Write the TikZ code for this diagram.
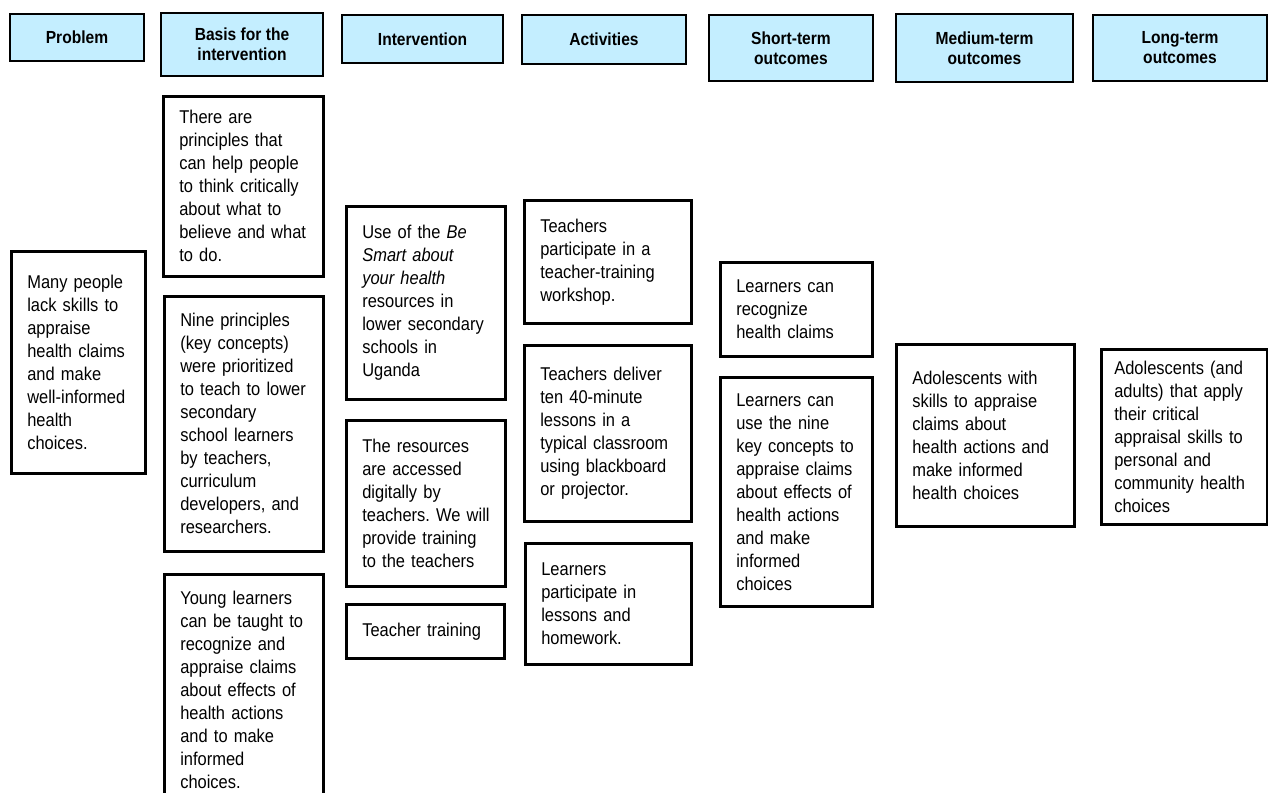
\documentclass[tikz,border=0pt]{standalone}
\usepackage{fontspec}
\setmainfont[FakeStretch=0.89]{Liberation Sans}
\definecolor{headfill}{RGB}{196,238,255}
\frenchspacing
\newcommand\headspc{\spaceskip=4.4pt plus 2pt minus 1pt\relax}
\newcommand\bodyspc{\spaceskip=4.6pt plus 2pt minus 1pt\relax}
\begin{document}
\begin{tikzpicture}[x=1pt,y=-1pt,
  head/.style={draw=black,line width=2.6pt,fill=headfill,align=center,
    font=\bfseries\fontsize{17.5}{20}\selectfont\headspc,inner sep=0pt},
  body/.style={draw=black,line width=2.6pt,fill=white,align=left,anchor=north west,
    font=\fontsize{18.5}{23}\selectfont\bodyspc,inner xsep=16pt,inner ysep=0pt}]
\useasboundingbox (0,0) rectangle (1268,792);
\clip (0,0) rectangle (1268,792);
% headers
\node[head,minimum width=134pt,minimum height=47pt] (hP) at (77,37.5) {Problem};
\node[head,minimum width=162pt,minimum height=63pt] (hB) at (242,44.5) {Basis for the\\intervention};
\node[head,minimum width=161pt,minimum height=48pt] (hI) at (422.5,39) {Intervention};
\node[head,minimum width=164pt,minimum height=49pt] (hA) at (604,39.5) {Activities};
\node[head,minimum width=164pt,minimum height=66pt] (hS) at (791,48) {Short-term\\outcomes};
\node[head,minimum width=177pt,minimum height=68pt] (hM) at (984.5,48) {Medium-term\\outcomes};
\node[head,minimum width=174pt,minimum height=66pt] (hL) at (1180,48) {Long-term\\outcomes};
% problem
\node[body,text width=102pt,minimum width=134pt,minimum height=222pt] (p1) at (10,250)
 {Many people\\lack skills to\\appraise\\health claims\\and make\\well-informed\\health\\choices.};
% basis
\node[body,text width=128pt,minimum width=160pt,minimum height=180pt] (b1) at (162,95)
 {There are\\principles that\\can help people\\to think critically\\about what to\\believe and what\\to do.};
\node[body,text width=127pt,minimum width=159pt,minimum height=255pt] (b2) at (163,295)
 {Nine principles\\(key concepts)\\were prioritized\\to teach to lower\\secondary\\school learners\\by teachers,\\curriculum\\developers, and\\researchers.};
\node[body,text width=127pt,minimum width=159pt,minimum height=232pt] (b3) at (163,573)
 {Young learners\\can be taught to\\recognize and\\appraise claims\\about effects of\\health actions\\and to make\\informed\\choices.};
% intervention
\node[body,text width=127pt,minimum width=159pt,minimum height=193pt] (i1) at (345,205)
 {Use of the \textit{Be}\\\textit{Smart about}\\\textit{your health}\\resources in\\lower secondary\\schools in\\Uganda};
\node[body,text width=133pt,inner xsep=13pt,minimum width=159pt,minimum height=166pt] (i2) at (345,419)
 {\hspace*{3pt}The resources\\\hspace*{3pt}are accessed\\\hspace*{3pt}digitally by\\\hspace*{3pt}teachers. We will\\\hspace*{3pt}provide training\\\hspace*{3pt}to the teachers};
\node[body,text width=126pt,minimum width=158pt,minimum height=54pt] (i3) at (345,603)
 {Teacher training};
% activities
\node[body,text width=135pt,minimum width=167pt,minimum height=123pt] (a1) at (523,199)
 {Teachers\\participate in a\\teacher-training\\workshop.};
\node[body,text width=135pt,minimum width=167pt,minimum height=176pt] (a2) at (523,344)
 {Teachers deliver\\ten 40-minute\\lessons in a\\typical classroom\\using blackboard\\or projector.};
\node[body,text width=134pt,minimum width=166pt,minimum height=121pt] (a3) at (524,542)
 {Learners\\participate in\\lessons and\\homework.};
% short-term
\node[body,text width=120pt,minimum width=152pt,minimum height=94pt] (s1) at (719,261)
 {Learners can\\recognize\\health claims};
\node[body,text width=120pt,minimum width=152pt,minimum height=229pt] (s2) at (719,376)
 {Learners can\\use the nine\\key concepts to\\appraise claims\\about effects of\\health actions\\and make\\informed\\choices};
% medium-term
\node[body,text width=146pt,minimum width=178pt,minimum height=182pt] (m1) at (895,343)
 {Adolescents with\\skills to appraise\\claims about\\health actions and\\make informed\\health choices};
% long-term
\node[body,text width=140pt,inner xsep=13pt,minimum width=166pt,minimum height=175pt] (l1) at (1100,348)
 {Adolescents (and\\adults) that apply\\their critical\\appraisal skills to\\personal and\\community health\\choices};
\end{tikzpicture}
\end{document}
